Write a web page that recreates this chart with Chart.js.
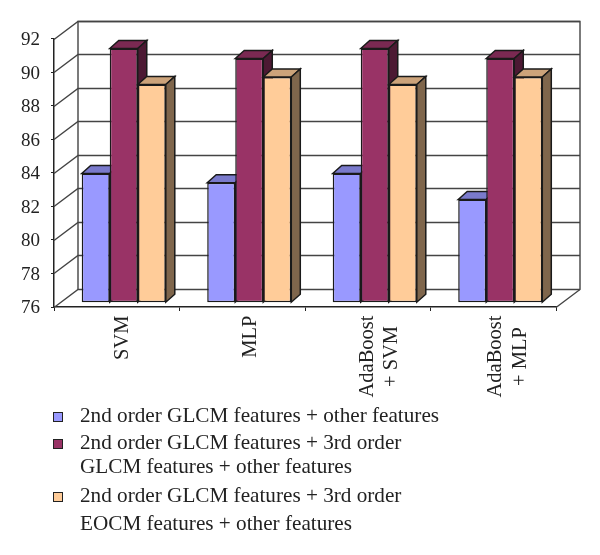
<!DOCTYPE html>
<html lang="en">
<head>
  <meta charset="UTF-8">
  <title>GLCM features chart</title>
  <script src="https://cdn.jsdelivr.net/npm/chart.js"></script>
  <style>
    * { box-sizing: border-box; margin: 0; padding: 0; }
    body { background: #fff; width: 600px; height: 555px; position: relative; overflow: hidden; }
    canvas { position: absolute; left: 0; top: 0; }
    .legend { position: absolute; left: 52px; top: 404px; font-family: 'Liberation Serif', serif; font-size: 21.2px; color: #222; }
    .legend .swatch { position: absolute; left: 1px; width: 10px; height: 10px; border: 1px solid #222; }
    .legend .text { position: absolute; left: 28px; white-space: nowrap; line-height: 24px; }
  </style>
</head>
<body>
<canvas id="chart" width="600" height="555"></canvas>
<div class="legend" id="legend"></div>

<script>
  const categories = [['SVM'], ['MLP'], ['AdaBoost', '+ SVM'], ['AdaBoost', '+ MLP']];
  const yTicks = [76, 78, 80, 82, 84, 86, 88, 90, 92];
  const glcm2 = [83.7, 83.15, 83.7, 82.15];
  const glcm3 = [91.15, 90.55, 91.15, 90.55];
  const eocm3 = [89, 89.45, 89, 89.45];

  const seriesNames = [
    ['2nd order GLCM features + other features'],
    ['2nd order GLCM features + 3rd order', 'GLCM features + other features'],
    ['2nd order GLCM features + 3rd order', 'EOCM features + other features']
  ];
  const frontColors = ['#9999ff', '#993366', '#ffcc99'];
  const topColors = ['#7a7acc', '#7a2952', '#cca37a'];
  const sideColors = ['#4c4c80', '#4c1933', '#7f664c'];

  // box depth: back wall vs front axis, and bars vs their own plane
  const wallDx = 24, wallDy = 18;
  const barDx = 9, barDy = 8;
  const barShiftX = 7, barShiftY = -4.3;
  const labelFont = "20.5px 'Liberation Serif', serif";

  function drawWall(chart) {
    const { ctx, chartArea: a, scales } = chart;
    ctx.save();
    ctx.strokeStyle = '#444';
    ctx.lineWidth = 1.4;
    yTicks.forEach(v => {
      const y = Math.round(scales.y.getPixelForValue(v)) + 0.5;
      ctx.beginPath();
      ctx.moveTo(a.left, y);
      ctx.lineTo(a.left + wallDx, y - wallDy);
      ctx.lineTo(a.right + wallDx, y - wallDy);
      ctx.stroke();
    });
    const top = Math.round(a.top) + 0.5 - wallDy;
    const bottom = Math.round(a.bottom) + 0.5;
    ctx.beginPath();
    ctx.moveTo(a.left + wallDx, bottom - wallDy);
    ctx.lineTo(a.left + wallDx, top);
    ctx.lineTo(a.right + wallDx, top);
    ctx.lineTo(a.right + wallDx, bottom - wallDy);
    ctx.lineTo(a.right, bottom);
    ctx.stroke();
    ctx.restore();
  }

  function drawBarFaces(ctx, bar, i) {
    const l = bar.x - bar.width / 2, r = bar.x + bar.width / 2;
    const t = bar.y, b = bar.base;
    ctx.lineWidth = 1.5;
    ctx.strokeStyle = '#1a1a1a';
    ctx.fillStyle = topColors[i];
    ctx.beginPath();
    ctx.moveTo(l, t);
    ctx.lineTo(l + barDx, t - barDy);
    ctx.lineTo(r + barDx, t - barDy);
    ctx.lineTo(r, t);
    ctx.closePath();
    ctx.fill();
    ctx.stroke();
    ctx.fillStyle = sideColors[i];
    ctx.beginPath();
    ctx.moveTo(r, t);
    ctx.lineTo(r + barDx, t - barDy);
    ctx.lineTo(r + barDx, b - barDy);
    ctx.lineTo(r, b);
    ctx.closePath();
    ctx.fill();
    ctx.stroke();
  }

  const box3d = {
    id: 'box3d',
    beforeDatasetsDraw: drawWall,
    // chart.js paints first dataset last; here the back series must go first
    beforeDatasetDraw() { return false; },
    afterDatasetsDraw(chart) {
      const ctx = chart.ctx;
      ctx.save();
      ctx.translate(barShiftX, barShiftY);
      chart.data.datasets.forEach((ds, i) => {
        const meta = chart.getDatasetMeta(i);
        meta.data.forEach(bar => drawBarFaces(ctx, bar, i));
        meta.controller.draw();
      });
      ctx.restore();
    },
    afterDraw(chart) {
      // rotated category labels, lines centred on each other
      const ctx = chart.ctx;
      const x = chart.scales.x;
      ctx.save();
      ctx.font = labelFont;
      ctx.fillStyle = '#222';
      ctx.textAlign = 'center';
      ctx.textBaseline = 'middle';
      categories.forEach((lines, i) => {
        const w = Math.max(...lines.map(s => ctx.measureText(s).width));
        ctx.save();
        ctx.translate(x.getPixelForTick(i) + 5.5 + 3.2 * i, 315.5 + w / 2);
        ctx.rotate(-Math.PI / 2);
        lines.forEach((s, j) => {
          ctx.fillText(s, 0, (j - (lines.length - 1) / 2) * 24.5);
        });
        ctx.restore();
      });
      ctx.restore();
    }
  };

  function makeDataset(values, i) {
    return {
      data: values,
      base: yTicks[0],
      backgroundColor: frontColors[i],
      borderColor: '#1a1a1a',
      borderWidth: 1.5,
      borderSkipped: false,
      categoryPercentage: 0.67,
      barPercentage: 1
    };
  }

  new Chart(document.getElementById('chart'), {
    type: 'bar',
    data: {
      labels: categories,
      datasets: [glcm2, glcm3, eocm3].map(makeDataset)
    },
    plugins: [box3d],
    options: {
      responsive: false,
      animation: false,
      events: [],
      layout: { padding: { top: 38.5, right: 44 } },
      plugins: { legend: { display: false }, tooltip: { enabled: false } },
      scales: {
        x: {
          afterFit(scale) { scale.height = 248; },
          border: { color: '#222', width: 1.5 },
          grid: { drawOnChartArea: false, color: '#222', tickLength: 4 },
          ticks: { display: false }
        },
        y: {
          min: yTicks[0],
          max: yTicks[yTicks.length - 1],
          afterBuildTicks(scale) { scale.ticks = yTicks.map(v => ({ value: v })); },
          afterFit(scale) { scale.width = 54; },
          border: { color: '#222', width: 1.5 },
          grid: { drawOnChartArea: false, color: '#222', tickLength: 3 },
          ticks: {
            padding: 11,
            labelOffset: 1.5,
            color: '#222',
            font: { family: "'Liberation Serif', serif", size: 19 }
          }
        }
      }
    }
  });

  // legend with wrapped entries
  const legend = document.getElementById('legend');
  const legendTops = [[-1], [26, 50], [79, 107]];
  seriesNames.forEach((lines, i) => {
    const swatch = document.createElement('div');
    swatch.className = 'swatch';
    swatch.style.top = (legendTops[i][0] + 9) + 'px';
    swatch.style.background = frontColors[i];
    legend.appendChild(swatch);
    lines.forEach((line, j) => {
      const text = document.createElement('div');
      text.className = 'text';
      text.style.top = legendTops[i][j] + 'px';
      text.textContent = line;
      legend.appendChild(text);
    });
  });
</script>
</body>
</html>
